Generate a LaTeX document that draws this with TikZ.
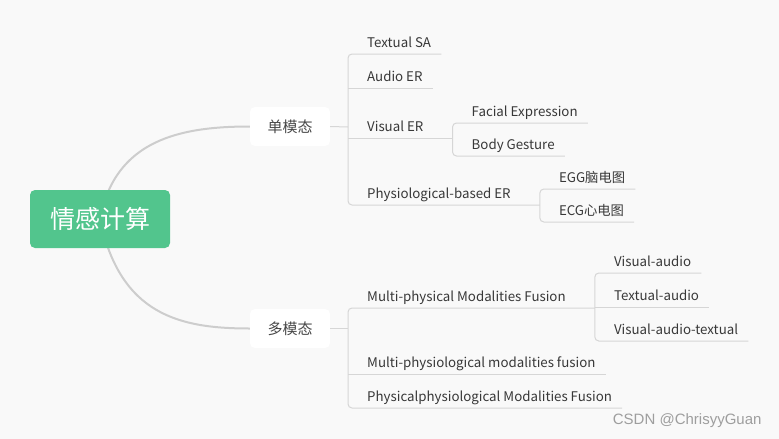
\documentclass[tikz,border=0pt]{standalone}
\usepackage{fontspec}
\setmainfont{Noto Sans CJK SC}
\newfontfamily\markfont{Liberation Sans}
\usetikzlibrary{positioning}
\pgfdeclarelayer{background}
\pgfsetlayers{background,main}
\definecolor{rootgreen}{HTML}{52C58D}
\definecolor{linkgray}{HTML}{D6D6D6}
\definecolor{curvegray}{HTML}{CDCDCD}
\definecolor{bggray}{HTML}{F9F9F9}

\begin{document}
\begin{tikzpicture}[x=1pt, y=-1pt,
Root/.style={fill=rootgreen, text=white, rounded corners=5pt, minimum width=140pt, minimum height=58pt, font=\fontsize{25}{25}\selectfont},
Branch/.style={fill=white, text=black!72, rounded corners=5pt, minimum width=80pt, minimum height=39pt, font=\fontsize{15}{15}\selectfont},
Leaf/.style={anchor=south west, xshift=9pt, inner xsep=10pt, inner ysep=4pt, text height=9.5pt, text depth=2.5pt, text=black!78, font=\fontsize{13.3}{13.3}\selectfont},
Curve/.style={curvegray, line width=2pt},
Link/.style={linkgray, line width=1pt, rounded corners=4pt}]
\useasboundingbox (0,0) rectangle (779,439);

\node[Root] (root) at (100,219) {情感计算};
\node[Branch] (single) at (290,126.5) {单模态};
\node[Branch] (multi) at (290,328.5) {多模态};
\begin{pgfonlayer}{background}
\fill[bggray] (0,0) rectangle (779,439);
\draw[Curve] (root.center) .. controls +(15,-79) and +(-70,0) .. (single.west);
\draw[Curve] (root.center) .. controls +(20,96) and +(-70,0) .. (multi.west);
\end{pgfonlayer}

% 单模态
\coordinate (sb) at (348,127);
\node[Leaf] (textual) at (sb |- 0,54) {Textual SA};
\node[Leaf] (audio) at (sb |- 0,88) {Audio ER};
\node[Leaf] (visual) at (sb |- 0,138) {Visual ER};
\node[Leaf] (physio) at (sb |- 0,205) {Physiological-based ER};
\coordinate (vb) at ([xshift=19pt]visual.south east);
\coordinate (pb) at ([xshift=19pt]physio.south east);
\node[Leaf] (facial) at (vb |- 0,123) {Facial Expression};
\node[Leaf] (body) at (vb |- 0,156) {Body Gesture};
\node[Leaf] (egg) at (pb |- 0,189) {EGG脑电图};
\node[Leaf] (ecg) at (pb |- 0,222) {ECG心电图};
\draw[Link] (single.east) -- (sb);
\draw[Link] (textual.south east) -- (sb |- textual.south) -- (sb |- physio.south) -- (pb);
\draw[Link] (sb |- audio.south) -- (audio.south east);
\draw[Link] (sb |- visual.south) -- (vb);
\draw[Link] (facial.south east) -- (vb |- facial.south) -- (vb |- body.south) -- (body.south east);
\draw[Link] (egg.south east) -- (pb |- egg.south) -- (pb |- ecg.south) -- (ecg.south east);

% 多模态
\coordinate (mb) at (348,328.5);
\node[Leaf] (mphys) at (mb |- 0,308) {Multi-physical Modalities Fusion};
\node[Leaf] (mphysio) at (mb |- 0,374) {Multi-physiological modalities fusion};
\node[Leaf] (pp) at (mb |- 0,408) {Physicalphysiological Modalities Fusion};
\coordinate (fb) at ([xshift=19pt]mphys.south east);
\node[Leaf] (va) at (fb |- 0,273) {Visual-audio};
\node[Leaf] (ta) at (fb |- 0,307) {Textual-audio};
\node[Leaf] (vat) at (fb |- 0,341) {Visual-audio-textual};
\draw[Link] (multi.east) -- (mb);
\draw[Link] (fb) -- (mb |- mphys.south) -- (mb |- pp.south) -- (pp.south east);
\draw[Link] (mb |- mphysio.south) -- (mphysio.south east);
\draw[Link] (va.south east) -- (fb |- va.south) -- (fb |- vat.south) -- (vat.south east);
\draw[Link] (fb |- ta.south) -- (ta.south east);

\node[anchor=east, text=black!38, font=\markfont\fontsize{15}{15}\selectfont] (mark) at (765,421) {CSDN @ChrisyyGuan};
\end{tikzpicture}
\end{document}
